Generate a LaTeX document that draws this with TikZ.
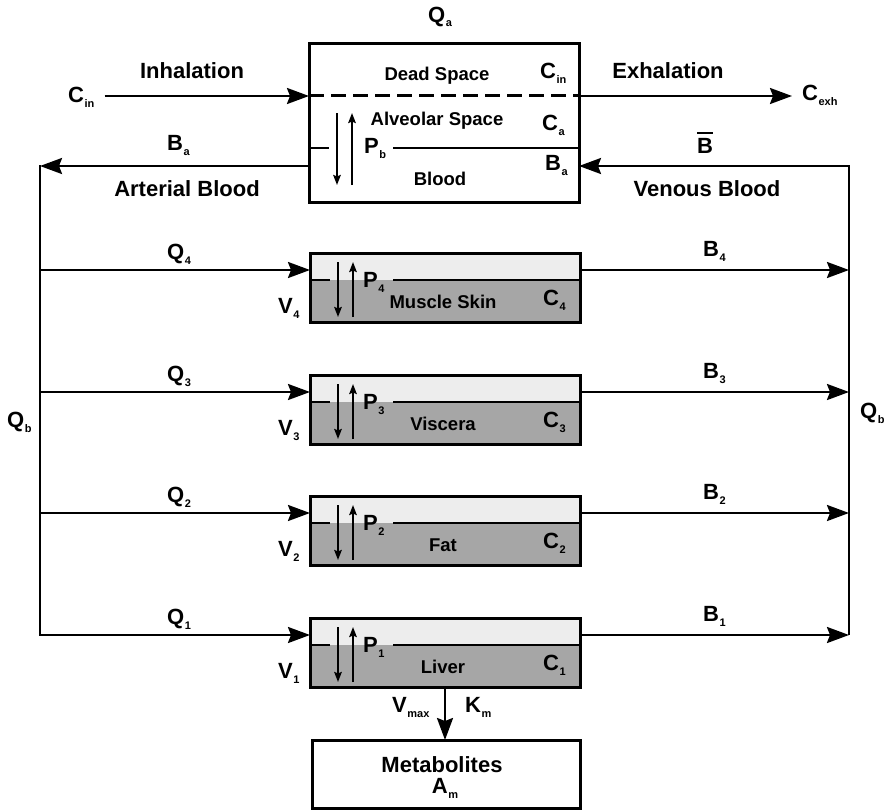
\documentclass[tikz,border=0pt]{standalone}
\usepackage{fontspec}
\setmainfont{Liberation Sans}
\usetikzlibrary{arrows.meta}
\newcommand{\sbs}[1]{\kern0.5pt\raisebox{-5pt}{\fontsize{11}{11}\selectfont #1}}
\begin{document}
\begin{tikzpicture}[x=1pt,y=-1pt,
  lbl/.style={font=\fontsize{22}{24}\selectfont\bfseries, inner sep=0pt, anchor=base west},
  clbl/.style={lbl, anchor=base},
  ilbl/.style={font=\fontsize{18.5}{20}\selectfont\bfseries, inner sep=0pt, anchor=base},
  flow/.style={line width=2.4pt, -{Stealth[length=22pt,width=16pt,inset=3pt]}},
  trunk/.style={line width=2.4pt, line cap=rect},
  perm/.style={line width=2pt, -{Stealth[length=10pt,width=7.5pt,inset=1.5pt]}},
  frame/.style={draw, line width=3pt, inner sep=0pt, outer sep=0pt},
  divider/.style={line width=2.2pt},
  deadline/.style={line width=3pt, dash pattern=on 15pt off 7pt}
]
\fill[white] (0,0) rectangle (884,811);
\useasboundingbox (0,0) rectangle (884,811);

% lung box
\node[frame, minimum width=270pt, minimum height=159pt, anchor=north west] (lung) at (309,43) {};
\draw[deadline] ([yshift=-52pt]lung.north west) -- ([yshift=-52pt]lung.north east);
\draw[divider] ([yshift=-105pt]lung.north west) -- ++(20pt,0);
\draw[divider] ([yshift=-105pt,xshift=84pt]lung.north west) -- ([yshift=-105pt]lung.north east);
\draw[perm] ([xshift=28pt,yshift=-70pt]lung.north west) -- ([xshift=28pt,yshift=17pt]lung.south west);
\draw[perm] ([xshift=43pt,yshift=17pt]lung.south west) -- ([xshift=43pt,yshift=-70pt]lung.north west);
\node[ilbl] (ds) at (437,80) {Dead Space};
\node[ilbl] (as) at (437,125) {Alveolar Space};
\node[ilbl] (bl) at (440,185) {Blood};
\node[lbl] (cinb) at (540,78) {C\sbs{in}};
\node[lbl] (ca) at (542,130) {C\sbs{a}};
\node[lbl] (pb) at (364,153) {P\sbs{b}};
\node[lbl] (bab) at (545,170) {B\sbs{a}};
\node[clbl] (qa) at (440,22) {Q\sbs{a}};

% breathing
\coordinate (ex) at (0,96);
\node[lbl] (cin) at (68,102) {C\sbs{in}};
\node[lbl] (cexh) at (802,100) {C\sbs{exh}};
\draw[flow] ([xshift=10pt]cin.east |- ex) -- (lung.west |- ex);
\draw[flow] (lung.east |- ex) -- ([xshift=-10pt]cexh.west |- ex);
\node[clbl] (inh) at (192,78) {Inhalation};
\node[clbl] (exh) at (668,78) {Exhalation};

% blood trunks
\coordinate (cL) at (40,166);
\coordinate (cR) at (849,166);
\node[lbl] (ba) at (167,150) {B\sbs{a}};
\node[clbl] (art) at (187,196) {Arterial Blood};
\node[lbl] (bb) at (697,153) {B};
\draw[line width=2pt] ([yshift=5pt]bb.north west) -- ([yshift=5pt]bb.north east);
\node[clbl] (ven) at (707,196) {Venous Blood};

% tissues
\foreach \i/\t/\name in {4/253/Muscle Skin, 3/375/Viscera, 2/496/Fat, 1/618/Liver}{
  \node[frame, fill=black!7, minimum width=270pt, minimum height=69pt, anchor=north west,
    path picture={\fill[black!35] ([yshift=42pt]path picture bounding box.south west) rectangle (path picture bounding box.south east);}]
    (t\i) at (310,\t) {};
  \draw[divider] ([yshift=-27pt]t\i.north west) -- ++(20pt,0);
  \draw[divider] ([yshift=-27pt,xshift=83pt]t\i.north west) -- ([yshift=-27pt]t\i.north east);
  \draw[perm] ([xshift=28pt,yshift=-9pt]t\i.north west) -- ([xshift=28pt,yshift=5pt]t\i.south west);
  \draw[perm] ([xshift=43pt,yshift=5pt]t\i.south west) -- ([xshift=43pt,yshift=-9pt]t\i.north west);
  \coordinate (a\i) at (0,\t+17);
  \node[lbl] (q\i) at (167,\t+6) {Q\sbs{\i}};
  \node[lbl] (b\i) at (703,\t+3) {B\sbs{\i}};
  \node[lbl] (v\i) at (278,\t+60) {V\sbs{\i}};
  \node[lbl] (p\i) at (363,\t+34) {P\sbs{\i}};
  \node[ilbl] (n\i) at (443,\t+55) {\name};
  \node[lbl] (c\i) at (543,\t+52) {C\sbs{\i}};
}

\draw[trunk] (cL) -- (cL |- a1);
\draw[flow] (lung.west |- cL) -- (cL);
\draw[flow] (cR |- a1) -- (cR) -- (lung.east |- cR);
\foreach \i in {1,2,3,4}{
  \draw[flow] (cL |- a\i) -- (t\i.west |- a\i);
  \draw[flow] (t\i.east |- a\i) -- (cR |- a\i);
}
\node[lbl] (qbl) at (7,427) {Q\sbs{b}};
\node[lbl] (qbr) at (860,418) {Q\sbs{b}};

% metabolites
\node[frame, minimum width=268pt, minimum height=68pt, anchor=north west] (met) at (312,740) {};
\draw[flow] (t1.south) -- (t1.south |- met.north);
\node[lbl] (vmax) at (392,712) {V\sbs{max}};
\node[lbl] (km) at (465,712) {K\sbs{m}};
\node[clbl] (mt) at (442,772) {Metabolites};
\node[clbl] (am) at (445,793) {A\sbs{m}};
\end{tikzpicture}
\end{document}
